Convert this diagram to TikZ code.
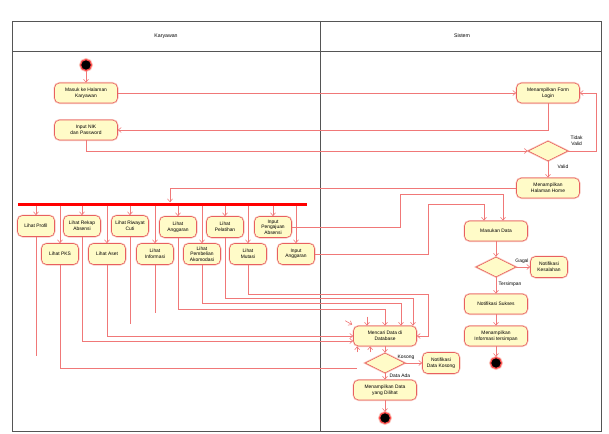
\documentclass[tikz,border=0pt]{standalone}
\usepackage{fontspec}
\setmainfont{Liberation Sans}
\usetikzlibrary{arrows.meta,shapes.geometric,calc}
\definecolor{actfill}{HTML}{FFFBC8}
\definecolor{actborder}{HTML}{E86060}
\definecolor{halo}{HTML}{F8C8C0}
\definecolor{linecol}{HTML}{F07878}
\definecolor{framecol}{HTML}{555555}
\tikzset{
  act/.style={draw=actborder, fill=actfill, line width=0.6pt, rounded corners=5pt,
    preaction={draw=halo, line width=2pt},
    minimum width=63pt, minimum height=20pt, align=center, inner sep=1pt,
    font=\fontsize{4.9}{5.6}\selectfont},
  sact/.style={act, minimum width=37pt, minimum height=21pt},
  dec/.style={diamond, aspect=2, draw=actborder, fill=actfill, line width=0.6pt,
    preaction={draw=halo, line width=2pt},
    minimum width=40pt, minimum height=20pt, inner sep=0pt},
  endnode/.style={circle, fill=black, draw=red!70, line width=1.2pt, minimum size=11pt, inner sep=0pt,
    preaction={draw=halo, line width=3pt}},
  conn/.style={draw=linecol, line width=0.6pt, -{Straight Barb[length=3pt,width=5pt]}},
  plain/.style={draw=linecol, line width=0.6pt},
  lbl/.style={font=\fontsize{4.9}{5.6}\selectfont, align=center, inner sep=0.5pt},
  hdr/.style={font=\fontsize{5.2}{6}\selectfont}
}
\begin{document}
\begin{tikzpicture}[x=1pt,y=-1pt]
\useasboundingbox (0,0) rectangle (609,433);
% frame
\draw[framecol, line width=0.8pt] (12,21) rectangle (601,431);
\draw[framecol, line width=0.8pt] (12,51) -- (601,51);
\draw[framecol, line width=0.8pt] (320,21) -- (320,431);
\node[hdr] (hk) at (166,36) {Karyawan};
\node[hdr] (hs) at (462,36) {Sistem};

% nodes
\node[endnode] (start) at (86,65) {};
\node[act] (masuk) at (86,93) {Masuk ke Halaman\\Karyawan};
\node[act] (input) at (86,130) {Input NIK\\dan Password};
\node[act] (form) at (548,93) {Menampilkan Form\\Login};
\node[dec] (dv) at (548,151) {};
\node[act] (home) at (548,188) {Menampilkan\\Halaman Home};
\node[fill=red, minimum width=289pt, minimum height=3pt, inner sep=0pt] (fork) at (162,204) {};

\node[sact] (profil) at (36,226) {Lihat Profil};
\node[sact] (rekap) at (82,226) {Lihat Rekap\\Absensi};
\node[sact] (cuti) at (130,226) {Lihat Riwayat\\Cuti};
\node[sact] (angg) at (178,227) {Lihat\\Anggaran};
\node[sact] (pelat) at (225,227) {Lihat\\Pelatihan};
\node[sact] (peng) at (273,227) {Input\\Pengajuan\\Absensi};

\node[sact] (pks) at (60,254) {Lihat PKS};
\node[sact] (aset) at (107,254) {Lihat Aset};
\node[sact] (info) at (155,254) {Lihat\\Informasi};
\node[sact] (beli) at (202,254) {Lihat\\Pembelian\\Akomodasi};
\node[sact] (mutasi) at (248,254) {Lihat\\Mutasi};
\node[sact] (inang) at (296,254) {Input\\Anggaran};

\node[act] (masukan) at (496,231) {Masukan Data};
\node[dec] (d2) at (496,267) {};
\node[sact] (kes) at (549,267) {Notifikasi\\Kesalahan};
\node[act] (sukses) at (496,304) {Notifikasi Sukses};
\node[act] (tinfo) at (496,336) {Menampilkan\\Informasi tersimpan};
\node[endnode] (end2) at (496,363) {};

\node[act] (cari) at (385,336) {Mencari Data di\\Database};
\node[dec] (d3) at (385,363) {};
\node[sact] (kos) at (441,363) {Notifikasi\\Data Kosong};
\node[act] (tdata) at (385,390) {Menampilkan Data\\yang Dilihat};
\node[endnode] (end3) at (385,418) {};

% free ends
\coordinate (eprofil) at (36,356);
\coordinate (ecuti) at (130,324);
\coordinate (einfo) at (155,313);
\coordinate (epks) at (357,368);

% connectors (login)
\draw[conn] (start) -- (masuk);
\draw[conn] (masuk) -- (form);
\draw[conn] (form.south) |- (input.east);
\draw[conn] (input.south) |- (dv.west);
\draw[conn] (dv.east) -| (596,93) -- (form.east);
\draw[conn] (dv.south) -- (home.north);
\node[lbl, anchor=south west] (ltv) at (570,146) {Tidak\\Valid};
\node[lbl] (lv) at (563,167) {Valid};
\draw[conn] (home.west) -| (fork.north -| 170,0);

% fork to activities
\foreach \n in {profil,rekap,cuti,angg,pelat,peng,pks,aset,info,beli,mutasi,inang}{
  \draw[conn] (\n.north |- fork.south) -- (\n.north);
}

% activities down to search
\draw[plain] (profil.south) -- (eprofil);
\draw[conn] (rekap.south) |- ([yshift=-5pt]cari.west);
\draw[plain] (cuti.south) -- (ecuti);
\draw[plain] (info.south) -- (einfo);
\draw[conn] (aset.south) |- (cari.west);
\draw[plain] (pks.south) |- (epks);
\draw[conn] (angg.south) -- (178,309) -| (cari.north);
\draw[conn] (beli.south) -- (202,303) -| ([xshift=16pt]cari.north);
\draw[conn] (pelat.south) -- (225,298) -| ([xshift=28pt]cari.north);
\draw[conn] (mutasi.south) -- (248,294) -| (428,336) -- (cari.east);
\draw[conn] (peng.east) -| (400,194) -| ([xshift=7pt]masukan.north);
\draw[conn] (inang.east) -| (428,204) -| ([xshift=-12pt]masukan.north);

% stray arrow heads around search node
\draw[conn] ([xshift=-18pt,yshift=9pt]cari.north) -- ([xshift=-18pt]cari.north);
\draw[conn] ([xshift=-8pt,yshift=5pt]cari.north west) -- ([xshift=-1pt,yshift=1pt]cari.north west);
\draw[conn] ([xshift=4pt,yshift=-6pt]cari.south west) -- ([xshift=4pt]cari.south west);
\draw[conn] ([xshift=17pt,yshift=-6pt]cari.south west) -- ([xshift=17pt]cari.south west);

% system side
\draw[conn] (masukan.south) -- (d2.north);
\draw[conn] (d2.east) -- (kes.west);
\node[lbl, anchor=south] (lg) at (522,264) {Gagal};
\draw[conn] (d2.south) -- (sukses.north);
\node[lbl, anchor=west] (lt) at (498,284) {Tersimpan};
\draw[conn] (sukses.south) -- (tinfo.north);
\draw[conn] (tinfo.south) -- (end2.north);

\draw[conn] (cari.south) -- (d3.north);
\draw[conn] (d3.east) -- (kos.west);
\node[lbl, anchor=south] (lk) at (406,360) {Kosong};
\draw[conn] (d3.south) -- (tdata.north);
\node[lbl, anchor=west] (lda) at (389,376) {Data Ada};
\draw[conn] (tdata.south) -- (end3.north);
\end{tikzpicture}
\end{document}
